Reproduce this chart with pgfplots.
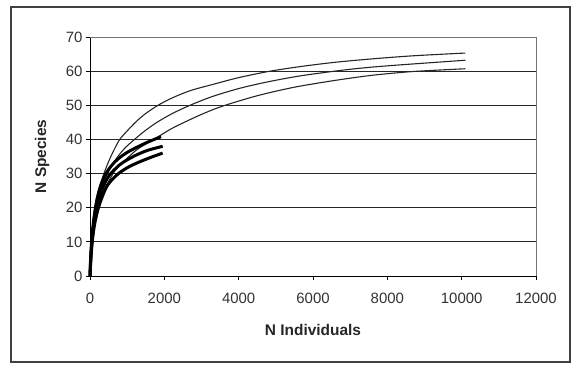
\documentclass[border=0pt]{standalone}
\usepackage{fontspec}
\setmainfont{Liberation Sans}
\usepackage{pgfplots}
\pgfplotsset{compat=1.18}
\begin{document}
\begin{tikzpicture}[x=1bp,y=1bp]
\useasboundingbox (0,0) rectangle (573,369);
\draw[black!75, line width=1.2bp] (11,7) rectangle (570,362);
\begin{axis}[
  at={(90bp,93bp)}, anchor=south west,
  scale only axis, width=446bp, height=239bp,
  xmin=0, xmax=12000, ymin=0, ymax=70,
  xtick={0,2000,...,12000}, ytick={0,10,...,70},
  scaled x ticks=false, scaled y ticks=false,
  axis lines*=left,
  axis line style={black, line width=0.9bp},
  ymajorgrids, grid style={black!85, line width=0.9bp},
  tick align=outside, major tick length=4bp,
  tick style={black, line width=0.9bp},
  /pgf/number format/assume math mode=true,
  /pgf/number format/set thousands separator={},
  ticklabel style={font=\fontsize{15}{18}\selectfont, text=black!80},
  xticklabel style={anchor=center, yshift=-18bp},
  yticklabel style={anchor=east},
  xlabel={N Individuals}, ylabel={N Species},
  every axis x label/.append style={at={(axis description cs:0.5,-0.226)}, anchor=center, font=\bfseries\fontsize{15.5}{18}\selectfont, text=black!85},
  every axis y label/.append style={at={(axis description cs:-0.1076,0.5)}, anchor=center, rotate=0, font=\bfseries\fontsize{15.5}{18}\selectfont, text=black!85},
  clip=false,
]
\draw[black!55, line width=0.9bp] (rel axis cs:0,1) -- (rel axis cs:1,1) -- (rel axis cs:1,0);
% long curves (thin)
\addplot[black!85, line width=1.1bp, smooth] coordinates {
(0,0) (10,4) (25,8) (50,12.5) (100,18) (170,22.5) (250,26) (375,30) (500,33.5) (650,37) (800,40) (1000,42.5) (1250,45.3) (1500,47.6) (1830,50) (2200,52.1) (2700,54.3) (3300,56.1) (4000,58.1) (4850,60) (5700,61.4) (6600,62.6) (7600,63.6) (8700,64.5) (10100,65.3)};
\addplot[black!85, line width=1.1bp, smooth] coordinates {
(0,0) (20,5) (50,10.5) (100,15.5) (180,20.5) (300,25.5) (470,30) (600,32.6) (750,35) (950,37.6) (1250,40.5) (1500,42.7) (1800,45) (2200,47.5) (2690,50) (3300,52.6) (4035,55) (4800,56.9) (5650,58.6) (6730,60.2) (7500,61.1) (8300,61.8) (9200,62.5) (10100,63.2)};
\addplot[black!85, line width=1.1bp, smooth] coordinates {
(0,0) (25,5) (65,10.5) (130,15.5) (230,20.5) (400,25.5) (620,30) (800,32.4) (1000,34.5) (1300,37.3) (1790,40.5) (2200,43.2) (2690,45.8) (3100,47.8) (3580,49.8) (4500,52.8) (5500,55.3) (6600,57.3) (7600,58.8) (8700,59.9) (10100,60.7)};
% short curves (thick)
\addplot[black, line width=3bp, smooth] coordinates {
(0,0) (20,6) (50,11) (95,16) (180,22) (290,26.5) (430,30) (600,32.6) (790,34.6) (1000,36.2) (1240,37.6) (1550,39.2) (1910,40.8)};
\addplot[black, line width=3bp, smooth] coordinates {
(0,0) (25,6) (60,11) (110,16) (210,21.5) (350,26) (520,29.5) (790,32.5) (1000,34) (1240,35.4) (1550,36.8) (1955,38)};
\addplot[black, line width=3bp, smooth] coordinates {
(0,0) (30,6) (70,11) (130,15.5) (240,20.5) (430,25.8) (600,28.3) (790,30.2) (1000,31.7) (1240,33) (1600,34.6) (1955,36)};
\end{axis}
\end{tikzpicture}
\end{document}
